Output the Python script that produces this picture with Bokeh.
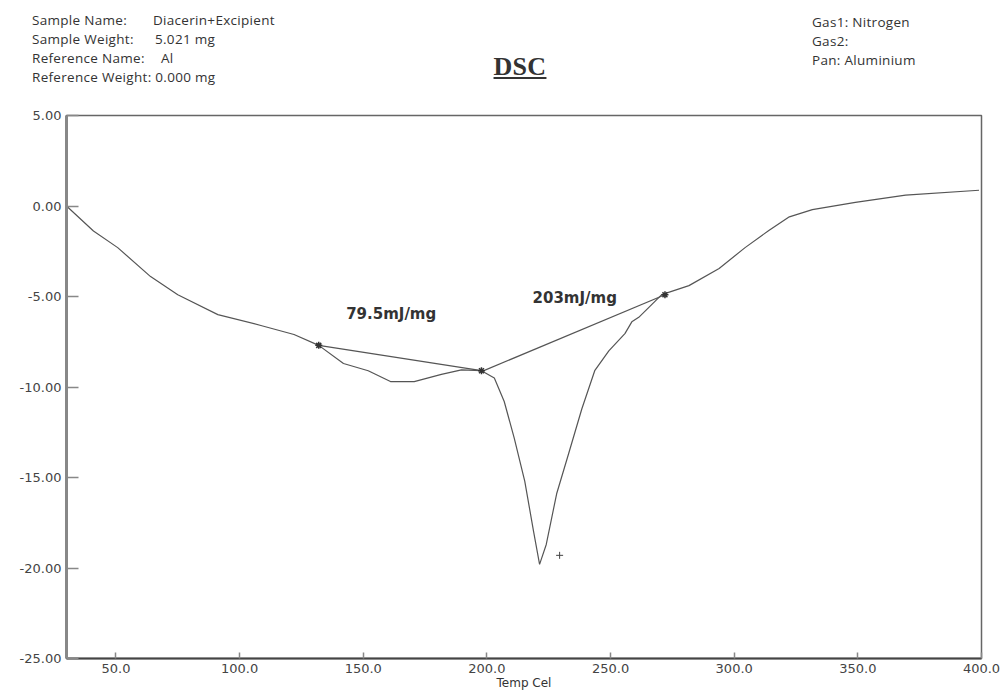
from bokeh.plotting import figure
from bokeh.layouts import column
from bokeh.models import Range1d, FixedTicker, PrintfTickFormatter, Div
from bokeh.core.properties import value
from bokeh.embed import file_html
from bokeh.resources import INLINE

# ---- DSC thermogram: temperature (Cel) vs heat flow (mW) ----
temp = [30, 40.9, 50.7, 64, 75, 91.2, 108.6, 122, 132, 142, 152, 161, 170.6,
        181.6, 189.7, 197.8, 203, 207, 211, 215.3, 218.9, 221.3, 224, 228.2,
        233, 238.4, 243.6, 249.3, 255.8, 258.6, 261.4, 265.5, 270.7, 281.7,
        293.9, 304.4, 314, 322.3, 331.6, 349, 369.3, 399]
heat = [0.0, -1.38, -2.3, -3.9, -4.9, -6.0, -6.6, -7.1, -7.7, -8.7, -9.1,
        -9.7, -9.7, -9.3, -9.05, -9.1, -9.5, -10.8, -12.8, -15.2, -18.0, -19.8,
        -18.7, -15.9, -13.7, -11.2, -9.1, -8.0, -7.05, -6.4, -6.15, -5.6, -4.9,
        -4.4, -3.45, -2.3, -1.35, -0.6, -0.2, 0.2, 0.6, 0.87]

# integration baselines of the two endotherms
base1_temp = [132, 197.8]
base1_heat = [-7.7, -9.1]
base2_temp = [197.8, 272]
base2_heat = [-9.15, -4.9]
end_temp = [132, 197.8, 272]
end_heat = [-7.7, -9.1, -4.9]
peak_mark_temp = [229.4]
peak_mark_heat = [-19.3]

# enthalpy labels
enth_text = ["79.5mJ/mg", "203mJ/mg"]
enth_temp = [161.3, 235.5]
enth_heat = [-5.94, -5.1]

x_ticks = [50, 100, 150, 200, 250, 300, 350, 400]
y_ticks = [5, 0, -5, -10, -15, -20, -25]

# run information printed above the chart
info_left_keys = ["Sample Name:", "Sample Weight:", "Reference Name:"]
info_left_vals = ["Diacerin+Excipient", "5.021 mg", "Al"]
info_left_last = "Reference Weight: 0.000 mg"
info_right = ["Gas1: Nitrogen", "Gas2:", "Pan: Aluminium"]

W = 1005
HEAD_H = 100
MAIN_H = 594


# ---------- header strip (run information and title) ----------
def span(left, center_y, text, extra=""):
    return (f'<span style="position:absolute;left:{left}px;top:{center_y - 9}px;'
            f'line-height:18px;white-space:nowrap;{extra}">{text}</span>')


parts = []
for row, key, val, vx in zip([20, 39, 58], info_left_keys, info_left_vals, [153, 155, 161]):
    parts.append(span(32, row, key))
    parts.append(span(vx, row, val))
parts.append(span(32, 77, info_left_last))
for row, txt in zip([22, 41, 60], info_right):
    parts.append(span(812, row, txt))
parts.append('<span style="position:absolute;left:491px;top:52px;width:58px;text-align:center;'
             'line-height:30px;font-family:\'Liberation Serif\';font-size:26px;font-weight:bold;'
             'text-decoration:underline;text-decoration-thickness:2px;text-underline-offset:2px;">DSC</span>')

head_html = ('<div style="position:relative;width:%dpx;height:%dpx;margin:0;padding:0;'
             'font-family:\'Open Sans\';font-size:13.5px;letter-spacing:0.3px;color:#333333;">%s</div>'
             % (W, HEAD_H, "".join(parts)))
head = Div(text=head_html, width=W, height=HEAD_H, margin=0)

# ---------- main chart ----------
p = figure(width=W, height=MAIN_H, x_range=Range1d(30, 400), y_range=Range1d(-25, 5),
           output_backend="svg", toolbar_location=None, title=None,
           min_border_left=66, min_border_right=24, min_border_top=15,
           min_border_bottom=36, outline_line_color="#666666", outline_line_width=1.5,
           margin=0)
p.grid.visible = False

p.xaxis.ticker = FixedTicker(ticks=x_ticks)
p.xaxis.formatter = PrintfTickFormatter(format="%.1f")
p.yaxis.ticker = FixedTicker(ticks=y_ticks)
p.yaxis.formatter = PrintfTickFormatter(format="%.2f")

axis_font = "DejaVu Sans"
for ax in (p.xaxis[0], p.yaxis[0]):
    ax.major_label_text_font = axis_font
    ax.major_label_text_font_size = "13px"
    ax.major_label_text_color = "#444444"
    ax.major_tick_out = 0
    ax.minor_tick_in = 0
    ax.minor_tick_out = 0
    ax.major_tick_line_color = "#888888"
    ax.major_tick_line_width = 1.5
p.xaxis.major_tick_in = 6
p.yaxis.major_tick_in = 12
p.xaxis.major_label_standoff = 5
p.yaxis.major_label_standoff = 5
p.xaxis.axis_line_color = "#444444"
p.xaxis.axis_line_width = 2
p.yaxis.axis_line_color = "#888888"
p.yaxis.axis_line_width = 3

p.xaxis.axis_label = "Temp Cel"
p.xaxis.axis_label_text_font = axis_font
p.xaxis.axis_label_text_font_size = "12px"
p.xaxis.axis_label_text_font_style = "normal"
p.xaxis.axis_label_text_color = "#333333"
p.xaxis.axis_label_standoff = 0

# thermogram, baselines and markers
p.line(base1_temp, base1_heat, line_color="#555555", line_width=1.2)
p.line(base2_temp, base2_heat, line_color="#555555", line_width=1.2)
p.line(temp, heat, line_color="#555555", line_width=1.2)
p.scatter(end_temp, end_heat, marker="asterisk", size=7, line_color="#333333", line_width=1.5)
p.scatter(peak_mark_temp, peak_mark_heat, marker="cross", size=7, line_color="#444444", line_width=1)

p.text(x=enth_temp, y=enth_heat, text=enth_text, text_font=value(axis_font),
       text_font_size="15px", text_font_style="bold", text_color="#333333",
       text_align="center", text_baseline="middle")

layout = column(head, p, spacing=0)
open("out.html", "w").write(file_html(layout, INLINE))
